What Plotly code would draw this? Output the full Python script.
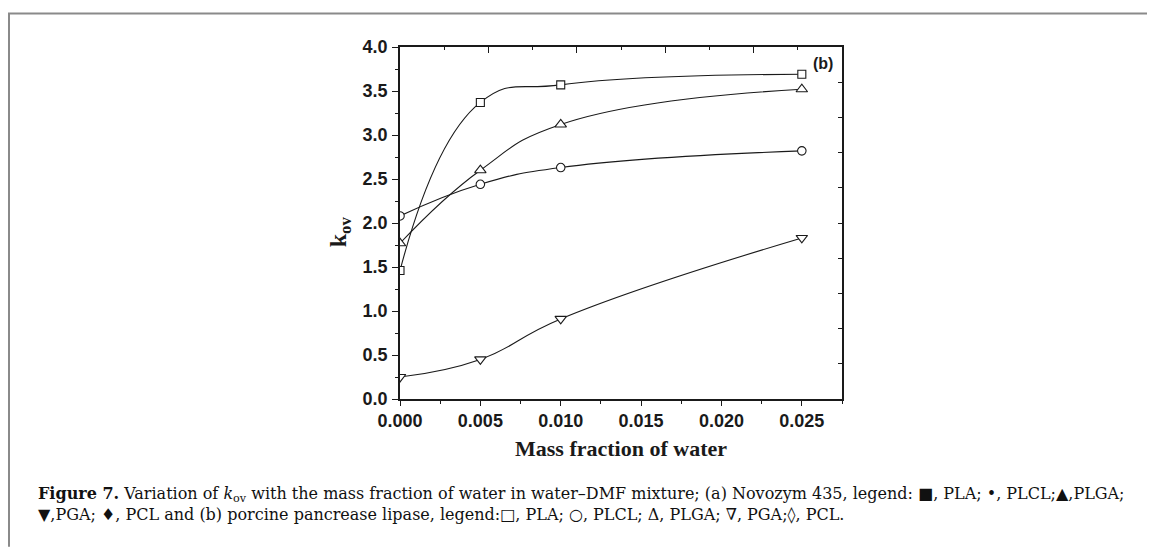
import plotly.graph_objects as go

# mass fraction of water in water-DMF mixture
water = [0.0, 0.005, 0.010, 0.025]

# k_ov for porcine pancreas lipase, panel (b)
k_pla = [1.46, 3.37, 3.57, 3.69]
k_plcl = [2.08, 2.44, 2.63, 2.82]
k_plga = [1.77, 2.60, 3.12, 3.52]
k_pga = [0.25, 0.45, 0.91, 1.83]

x_ticks = [0.000, 0.005, 0.010, 0.015, 0.020, 0.025]
y_ticks = [0.0, 0.5, 1.0, 1.5, 2.0, 2.5, 3.0, 3.5, 4.0]

# the page body has an 8px margin, so the figure is drawn 8px smaller
OFF = 8
W, H = 1155 - OFF, 547 - OFF
# plot area in reference-picture pixels
PX0, PX1, PY0, PY1 = 400, 842, 46.5, 399


def px(x):
    return (x - PX0) / (PX1 - PX0)


def py(y):
    return (PY1 - y) / (PY1 - PY0)


ink = '#1a1a1a'
series = [
    ('PLA', k_pla, 'square', 8),
    ('PLCL', k_plcl, 'circle', 8.5),
    ('PLGA', k_plga, 'triangle-up', 10),
    ('PGA', k_pga, 'triangle-down', 10),
]

fig = go.Figure()
for name, vals, sym, size in series:
    fig.add_trace(go.Scatter(
        x=water, y=vals, name=name, mode='lines+markers',
        line=dict(color=ink, width=1.1, shape='spline', smoothing=1.3),
        marker=dict(symbol=sym, size=size, color='white',
                    line=dict(color=ink, width=1.1)),
        showlegend=False,
    ))

# dummy trace so the mirrored top/right axes get drawn
fig.add_trace(go.Scatter(x=[None], y=[None], xaxis='x2', yaxis='y2',
                         showlegend=False, hoverinfo='skip'))

tick_font = dict(family='Liberation Sans', size=18, color=ink, weight='bold')

fig.update_layout(
    width=W, height=H,
    margin=dict(l=PX0 - OFF, r=W - (PX1 - OFF), t=PY0 - OFF, b=H - (PY1 - OFF)),
    paper_bgcolor='white', plot_bgcolor='white',
    xaxis=dict(range=[0, 0.0275], tickvals=x_ticks, tickformat='.3f',
               ticks='outside', ticklen=5, tickwidth=1.3, tickcolor=ink,
               minor=dict(dtick=0.0025, ticks='outside', ticklen=3, tickwidth=1.2, tickcolor=ink),
               showline=True, linewidth=1.5, linecolor=ink, showgrid=False, zeroline=False,
               tickfont=tick_font),
    yaxis=dict(range=[0, 4], tickvals=y_ticks, tickformat='.1f',
               ticks='outside', ticklen=6, tickwidth=1.3, tickcolor=ink,
               minor=dict(dtick=0.25, ticks='outside', ticklen=3, tickwidth=1.2, tickcolor=ink),
               showline=True, linewidth=1.5, linecolor=ink, showgrid=False, zeroline=False,
               tickfont=tick_font, ticklabelstandoff=1),
    xaxis2=dict(overlaying='x', anchor='y', side='top', range=[0, 0.0275],
                dtick=0.0055, ticks='inside', ticklen=6, tickwidth=1.3, tickcolor=ink,
                minor=dict(dtick=0.00275, ticks='inside', ticklen=3, tickwidth=1.2, tickcolor=ink),
                showticklabels=False, showline=True, linewidth=1.5, linecolor=ink,
                showgrid=False, zeroline=False),
    yaxis2=dict(overlaying='y', anchor='x', side='right', range=[0, 4],
                dtick=0.4, ticks='inside', ticklen=4, tickwidth=1.3, tickcolor=ink,
                showticklabels=False, showline=True, linewidth=1.5, linecolor=ink,
                showgrid=False, zeroline=False),
)

# outer figure frame (top and left edges only)
frame = dict(color='#8a8a8a', width=2)
fig.add_shape(type='line', xref='paper', yref='paper',
              x0=px(8), x1=px(1155), y0=py(13), y1=py(13), line=frame)
fig.add_shape(type='line', xref='paper', yref='paper',
              x0=px(9), x1=px(9), y0=py(13), y1=py(547), line=frame)

fig.add_annotation(text='(b)', xref='paper', yref='paper', x=px(823), y=py(63),
                   xanchor='center', yanchor='middle', showarrow=False,
                   font=dict(family='Liberation Sans', size=16, color=ink, weight='bold'))

fig.add_annotation(text='Mass fraction of water', xref='paper', yref='paper',
                   x=px(621), y=py(449), xanchor='center', yanchor='middle', showarrow=False,
                   font=dict(family='Liberation Serif', size=22, color=ink, weight='bold'))

fig.add_annotation(text='k<sub>ov</sub>', xref='paper', yref='paper',
                   x=px(340), y=py(232), xanchor='center', yanchor='middle',
                   textangle=-90, showarrow=False,
                   font=dict(family='Liberation Serif', size=24, color=ink, weight='bold'))

caption = ('<b>Figure 7.</b> Variation of <i>k</i><sub>ov</sub> with the mass fraction of water in '
           'water–DMF mixture; (a) Novozym 435, legend: ■, PLA; •, PLCL;▲,PLGA;<br>'
           '▼,PGA; ♦, PCL and (b) porcine pancrease lipase, legend:□, PLA; ○, PLCL; Δ, PLGA; ∇, PGA;◊, PCL.')
fig.add_annotation(text=caption, xref='paper', yref='paper', x=px(36), y=py(482),
                   xanchor='left', yanchor='top', align='left', showarrow=False,
                   font=dict(family='DejaVu Serif', size=16, color='#111'))

fig.write_html('out.html')
